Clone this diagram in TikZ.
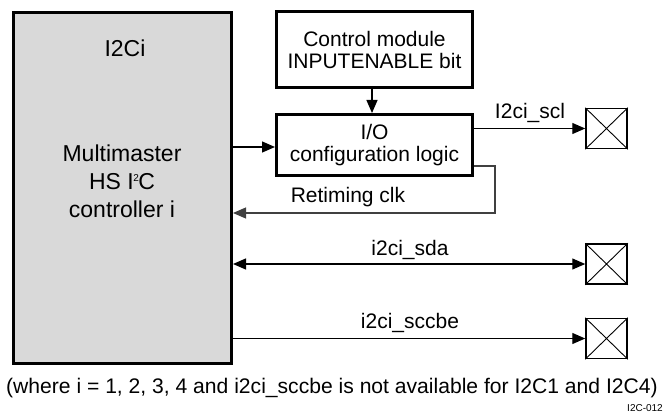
\documentclass[tikz,border=0pt]{standalone}
\usepackage{fontspec}
\setmainfont{Liberation Sans}
\usetikzlibrary{arrows.meta}
\definecolor{boxgray}{HTML}{D9D9D9}
\tikzset{
  thickbox/.style={draw=black, line width=3pt, rectangle, inner sep=0pt, align=center},
  pad/.style={draw=black, line width=1.5pt, rectangle, inner sep=0pt, minimum width=41pt, minimum height=40pt},
  lbl/.style={inner sep=0pt, font=\fontsize{21}{24}\selectfont},
  conn/.style={line width=1.2pt, -{Triangle[length=13pt,width=11pt]}},
  bconn/.style={line width=1.2pt, {Triangle[length=13pt,width=11pt]}-{Triangle[length=13pt,width=11pt]}},
  rconn/.style={line width=1.1pt, draw=black!75, -{Triangle[length=13pt,width=11pt]}}
}
\begin{document}
\begin{tikzpicture}[x=1pt,y=-1pt]
\useasboundingbox (0,0) rectangle (664,417);
% main controller box
\node[thickbox, fill=boxgray, minimum width=218pt, minimum height=351pt] (main) at (122.5,188) {};
\node[inner sep=0pt, font=\fontsize{23}{26}\selectfont] (t1) at (125,48) {I2Ci};
\node[inner sep=0pt, align=center, font=\fontsize{23}{28}\selectfont] (t2) at (122,181) {Multimaster\\HS I\kern-0.5pt\raisebox{8pt}{\fontsize{10}{10}\selectfont 2}\kern-0.5pt C\\controller i};
% control module and io logic
\node[thickbox, fill=white, minimum width=196pt, minimum height=76pt, font=\fontsize{21}{22}\selectfont] (ctrl) at (374.5,49.5) {Control module\\INPUTENABLE bit};
\node[thickbox, fill=white, minimum width=196pt, minimum height=61pt, font=\fontsize{21}{22}\selectfont] (io) at (374.5,145) {I/O\\configuration logic};
% pads
\node[pad] (scl) at (606.5,128.5) {};
\node[pad] (sda) at (606.5,264) {};
\node[pad] (sccbe) at (606.5,338.5) {};
\foreach \p in {scl,sda,sccbe}{
  \draw[line width=0.9pt] (\p.north west) -- (\p.south east) (\p.north east) -- (\p.south west);
}
% connectors
\draw[conn] ([xshift=-2.5pt]io.north |- ctrl.south) -- ([xshift=-2.5pt]io.north);
\draw[conn] ([yshift=-2pt]main.east |- io.west) -- ([yshift=-2pt]io.west);
\draw[conn] (io.east |- scl.west) -- (scl.west);
\coordinate (rt) at (495,213);
\draw[rconn] ([yshift=-21pt]io.east) -| (rt) -- (main.east |- rt);
\draw[bconn] (main.east |- sda.west) -- (sda.west);
\draw[conn] (main.east |- sccbe.west) -- (sccbe.west);
% labels
\node[lbl] (lscl) at (530,113) {I2ci\_scl};
\node[lbl] (lrt) at (348,197) {Retiming clk};
\node[lbl] (lsda) at (410,250) {i2ci\_sda};
\node[lbl] (lsccbe) at (410,323) {i2ci\_sccbe};
\node[inner sep=0pt, anchor=west, font=\fontsize{21.1}{24}\selectfont] (foot) at (6,388) {(where i = 1, 2, 3, 4 and i2ci\_sccbe is not available for I2C1 and I2C4)};
\node[inner sep=0pt, anchor=east, font=\fontsize{10}{11}\selectfont] (tag) at (663,408) {I2C-012};
\end{tikzpicture}
\end{document}
